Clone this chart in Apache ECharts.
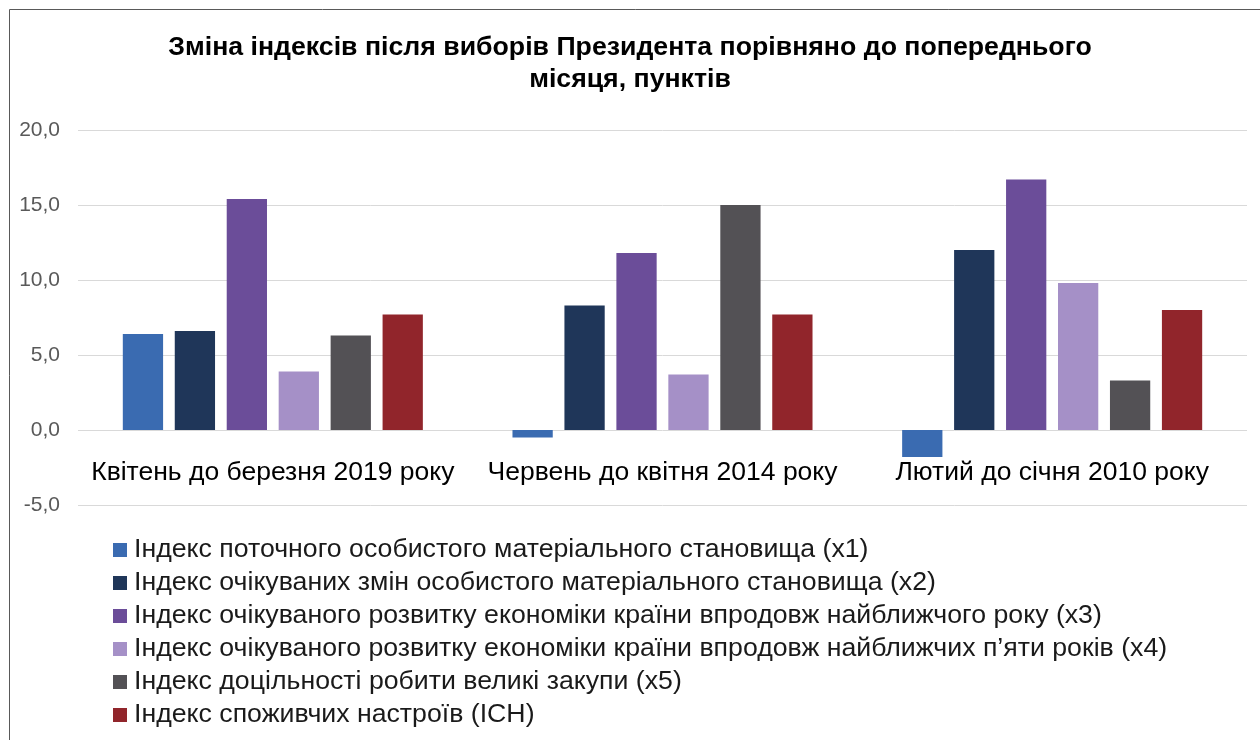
<!DOCTYPE html>
<html>
<head>
<meta charset="utf-8">
<script src="https://cdn.jsdelivr.net/npm/echarts@6/dist/echarts.min.js"></script>
<style>
  html, body { margin: 0; padding: 0; background: #fff; }
  #chart { width: 1260px; height: 740px; }
</style>
</head>
<body>
<div id="chart"></div>
<script>
// categories (periods after presidential elections)
const categories = ['Квітень до березня 2019 року', 'Червень до квітня 2014 року', 'Лютий до січня 2010 року']

const seriesNames = [
  'Індекс поточного особистого матеріального становища (х1)',
  'Індекс очікуваних змін особистого матеріального становища (х2)',
  'Індекс очікуваного розвитку економіки країни впродовж найближчого року (х3)',
  'Індекс очікуваного розвитку економіки країни впродовж найближчих п’яти років (х4)',
  'Індекс доцільності робити великі закупи (х5)',
  'Індекс споживчих настроїв (ІСН)'
]

// values per series, one per category
const x1 = [6.4, -0.5, -1.8]
const x2 = [6.6, 8.3, 12.0]
const x3 = [15.4, 11.8, 16.7]
const x4 = [3.9, 3.7, 9.8]
const x5 = [6.3, 15.0, 3.3]
const isn = [7.7, 7.7, 8.0]

const colors = ['#3a6bb1', '#1f3659', '#6b4d99', '#a590c7', '#535155', '#91252b']

const chart = echarts.init(document.getElementById('chart'))

const seriesData = [x1, x2, x3, x4, x5, isn]
const series = seriesData.map((d, i) => ({
  name: seriesNames[i],
  type: 'bar',
  data: d,
  barGap: '29%',
  barCategoryGap: '23%',
  itemStyle: { color: colors[i] }
}))

const option = {
  animation: false,
  title: {
    text: 'Зміна індексів після виборів Президента порівняно до попереднього\nмісяця, пунктів',
    left: 'center',
    top: 27,
    textStyle: {
      fontFamily: 'Liberation Sans, Arial, sans-serif',
      fontSize: 26.7,
      fontWeight: 'bold',
      color: '#000',
      lineHeight: 32
    }
  },
  legend: {
    orient: 'vertical',
    left: 113,
    top: 536,
    padding: 0,
    itemWidth: 14,
    itemHeight: 14,
    itemGap: 5,
    icon: 'rect',
    textStyle: {
      fontFamily: 'Liberation Sans, Arial, sans-serif',
      fontSize: 26.7,
      color: '#1a1a1a',
      lineHeight: 28,
      padding: [0, 0, 0, 2]
    },
    data: seriesNames
  },
  graphic: [{
    type: 'rect',
    shape: { x: 9.5, y: 9.5, width: 1300, height: 800 },
    style: { fill: 'none', stroke: '#595959', lineWidth: 1 },
    silent: true
  }],
  grid: {
    left: 78,
    right: 13,
    top: 130,
    bottom: 235
  },
  xAxis: {
    type: 'category',
    data: categories,
    axisLine: { show: false },
    axisTick: { show: false },
    axisLabel: {
      interval: 0,
      fontFamily: 'Liberation Sans, Arial, sans-serif',
      fontSize: 26.5,
      color: '#000',
      margin: -46
    }
  },
  yAxis: {
    type: 'value',
    min: -5,
    max: 20,
    interval: 5,
    axisLine: { show: false },
    axisTick: { show: false },
    axisLabel: {
      fontFamily: 'Liberation Sans, Arial, sans-serif',
      fontSize: 21,
      color: '#595959',
      margin: 18,
      formatter: v => v.toFixed(1).replace('.', ',')
    },
    splitLine: { lineStyle: { color: '#d9d9d9', width: 1 } }
  },
  series: series
}

chart.setOption(option)
</script>
</body>
</html>
